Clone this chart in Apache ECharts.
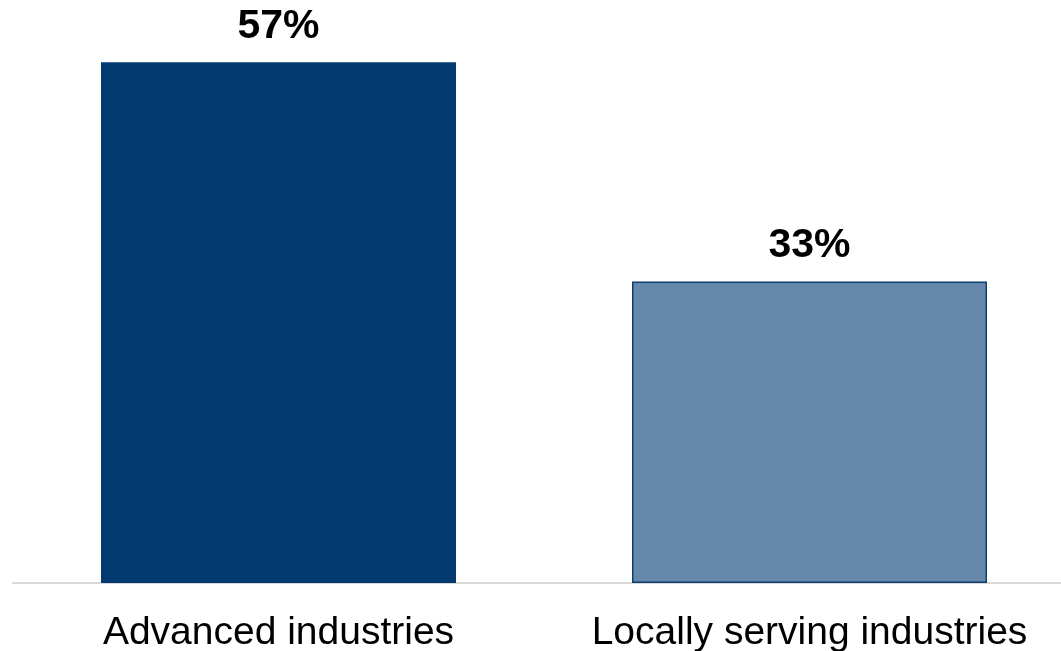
<!DOCTYPE html>
<html>
<head>
<meta charset="utf-8">
<script src="https://cdn.jsdelivr.net/npm/echarts@6/dist/echarts.min.js"></script>
<style>
  html, body { margin: 0; padding: 0; background: #fff; }
  #chart { width: 1061px; height: 651px; }
</style>
</head>
<body>
<div id="chart"></div>
<script>
// Data
var categories = ['Advanced industries', 'Locally serving industries'];
var shares = [57, 33];
var barColors = ['#023a70', '#6688ab'];
var barBorders = ['#023a70', '#0b3f70'];

var chart = echarts.init(document.getElementById('chart'));

var seriesData = shares.map(function (v, i) {
    return {
        value: v,
        itemStyle: { color: barColors[i], borderColor: barBorders[i], borderWidth: 1.5 }
    };
});

var option = {
    animation: false,
    grid: { left: 13, width: 1062, top: 0, bottom: 68, outerBoundsMode: 'none', containLabel: false },
    xAxis: {
        type: 'category',
        data: categories,
        axisLine: { lineStyle: { color: '#d9d9d9', width: 2 } },
        axisTick: { show: false },
        axisLabel: {
            interval: 0,
            color: '#000',
            fontSize: 39,
            fontFamily: 'Liberation Sans, Arial, sans-serif',
            margin: 31
        }
    },
    yAxis: {
        type: 'value',
        min: 0,
        max: 63.8,
        show: false,
        splitLine: { show: false }
    },
    series: [{
        type: 'bar',
        data: seriesData,
        barWidth: 355,
        label: {
            show: true,
            position: 'top',
            distance: 15,
            formatter: '{c}%',
            color: '#000',
            fontSize: 41,
            fontWeight: 'bold',
            fontFamily: 'Liberation Sans, Arial, sans-serif'
        }
    }]
};

chart.setOption(option);
</script>
</body>
</html>
